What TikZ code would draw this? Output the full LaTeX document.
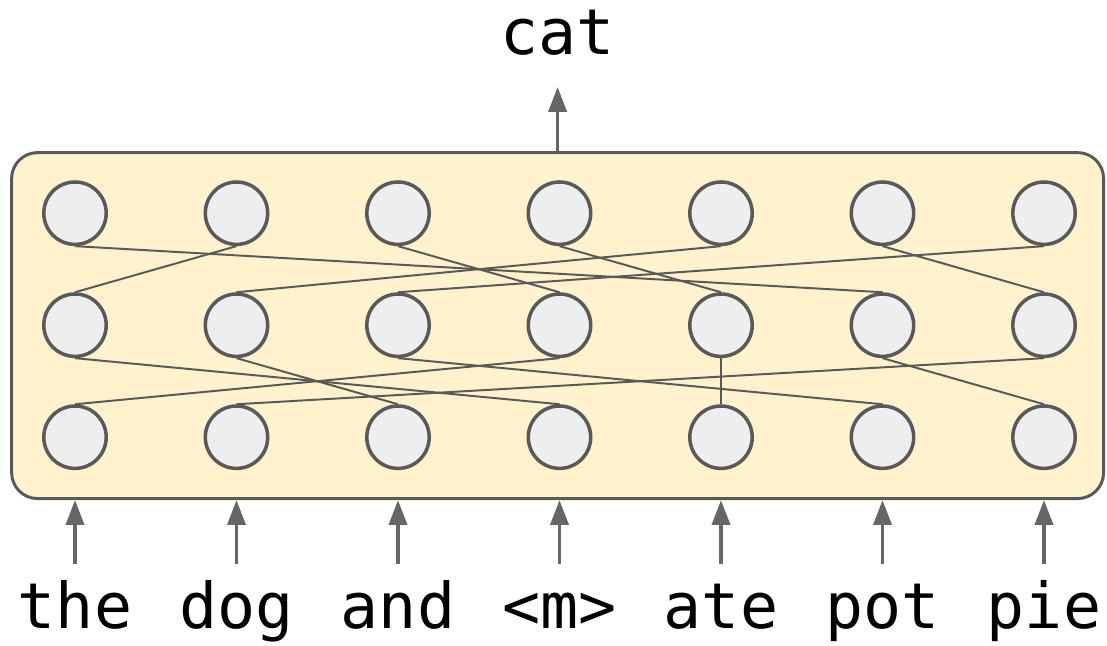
\documentclass[tikz,border=0pt]{standalone}
\usepackage{fontspec}
\setmonofont{DejaVu Sans Mono}
\usepackage{xcolor}
\usepackage{tikz}
\usetikzlibrary{arrows.meta}
\usetikzlibrary{calc}
\usetikzlibrary{positioning}

\definecolor{boxfill}{HTML}{FFF2CC}
\definecolor{linegray}{HTML}{595959}
\definecolor{cellfill}{HTML}{EEEEEE}
\definecolor{arrgray}{HTML}{666666}

\begin{document}
\begin{tikzpicture}[-,auto,node distance=4.0375cm, line width=1.4pt]
 				 \tikzstyle{cell}=[draw=linegray, circle, line width=2.5pt, fill=cellfill, minimum size=1.56cm, inner sep=0pt]
 				 \tikzstyle{block}=[draw=linegray, line width=2.1pt, fill=boxfill, rounded corners=0.65cm, minimum width=27.3cm, minimum height=8.65cm]
 				 \tikzstyle{word}=[font=\fontsize{45}{48}\selectfont\ttfamily, inner sep=0pt, text height=1.6cm, anchor=base]
 				 \tikzstyle{arr}=[-{Triangle[length=0.62cm,width=0.45cm]}, draw=arrgray, line width=2.5pt]
 				 \tikzstyle{wire}=[draw=linegray, line width=1.4pt]

						\useasboundingbox (0,0) rectangle (27.675,-16.15);
						\node[block] (blk) at (13.94,-8.14) {};

						% top row
						\node[cell] (t1) at (1.875,-5.33) {};
						\node[cell] (t2) [right of=t1] {};
						\node[cell] (t3) [right of=t2] {};
						\node[cell] (t4) [right of=t3] {};
						\node[cell] (t5) [right of=t4] {};
						\node[cell] (t6) [right of=t5] {};
						\node[cell] (t7) [right of=t6] {};
						% middle row
						\node[cell] (m1) [below of=t1, node distance=2.8cm] {};
						\node[cell] (m2) [right of=m1] {};
						\node[cell] (m3) [right of=m2] {};
						\node[cell] (m4) [right of=m3] {};
						\node[cell] (m5) [right of=m4] {};
						\node[cell] (m6) [right of=m5] {};
						\node[cell] (m7) [right of=m6] {};
						% bottom row
						\node[cell] (b1) [below of=m1, node distance=2.8cm] {};
						\node[cell] (b2) [right of=b1] {};
						\node[cell] (b3) [right of=b2] {};
						\node[cell] (b4) [right of=b3] {};
						\node[cell] (b5) [right of=b4] {};
						\node[cell] (b6) [right of=b5] {};
						\node[cell] (b7) [right of=b6] {};

						\path[wire]
							(t1.south) edge (m6.north)
							(t2.south) edge (m1.north)
							(t3.south) edge (m4.north)
							(t4.south) edge (m5.north)
							(t5.south) edge (m2.north)
							(t6.south) edge (m7.north)
							(t7.south) edge (m3.north)
							(m1.south) edge (b4.north)
							(m2.south) edge (b3.north)
							(m3.south) edge (b6.north)
							(m4.south) edge (b1.north)
							(m5.south) edge (b5.north)
							(m6.south) edge (b7.north)
							(m7.south) edge (b2.north);

						% output
						\node[word] (out) at (13.94,-1.375) {cat};
						\coordinate (tip) at (13.94,-2.175);
						\draw[arr] (blk.north) -- (tip);

						% inputs
						\coordinate (base) at (0,-15.725);
						\node[word] (w1) at (b1 |- base) {the};
						\node[word] (w2) at (b2 |- base) {dog};
						\node[word] (w3) at (b3 |- base) {and};
						\node[word] (w4) at (b4 |- base) {<m>};
						\node[word] (w5) at (b5 |- base) {ate};
						\node[word] (w6) at (b6 |- base) {pot};
						\node[word] (w7) at (b7 |- base) {pie};
						\draw[arr] (w1.north) -- (w1.north |- blk.south);
						\draw[arr] (w2.north) -- (w2.north |- blk.south);
						\draw[arr] (w3.north) -- (w3.north |- blk.south);
						\draw[arr] (w4.north) -- (w4.north |- blk.south);
						\draw[arr] (w5.north) -- (w5.north |- blk.south);
						\draw[arr] (w6.north) -- (w6.north |- blk.south);
						\draw[arr] (w7.north) -- (w7.north |- blk.south);
 				\end{tikzpicture}
\end{document}
